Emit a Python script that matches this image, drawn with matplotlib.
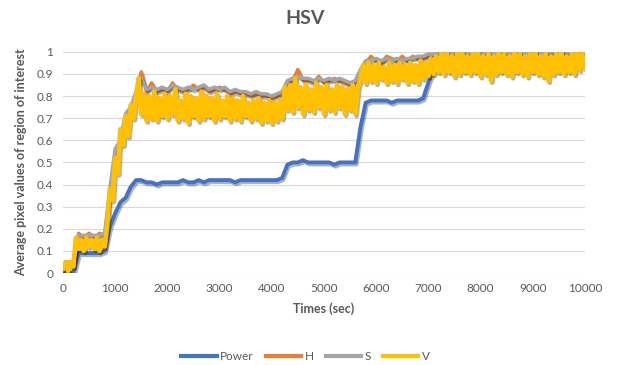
import numpy as np
import matplotlib.pyplot as plt
import matplotlib.patheffects as pe

# time axes (sec)
t_fine = np.arange(0, 10001, 50)
t_coarse = np.arange(0, 10001, 100)

# Power, every 100 sec
power = [0.00, 0.00, 0.00, 0.09, 0.09, 0.09, 0.09, 0.09, 0.10, 0.21,
         0.27, 0.32, 0.34, 0.39, 0.42, 0.42, 0.41, 0.41, 0.40, 0.41,
         0.41, 0.41, 0.41, 0.42, 0.41, 0.41, 0.42, 0.41, 0.42, 0.42,
         0.42, 0.42, 0.42, 0.41, 0.42, 0.42, 0.42, 0.42, 0.42, 0.42,
         0.42, 0.42, 0.43, 0.49, 0.50, 0.50, 0.51, 0.50, 0.50, 0.50,
         0.50, 0.50, 0.49, 0.50, 0.50, 0.50, 0.50, 0.66, 0.77, 0.78,
         0.78, 0.78, 0.78, 0.77, 0.78, 0.78, 0.78, 0.78, 0.78, 0.79,
         0.86, 0.92, 0.96, 0.98, 0.97, 0.98, 0.99, 0.98, 0.97, 0.99,
         0.98, 0.99, 0.98, 0.99, 0.98, 0.99, 0.98, 0.99, 0.98, 0.99,
         0.98, 0.97, 0.98, 0.99, 0.98, 0.97, 0.98, 0.99, 0.98, 0.99,
         0.98]

# S, every 100 sec
s_vals = [0.03, 0.05, 0.05, 0.17, 0.17, 0.17, 0.17, 0.17, 0.18, 0.38,
          0.56, 0.60, 0.72, 0.75, 0.82, 0.88, 0.83, 0.84, 0.83, 0.84,
          0.83, 0.85, 0.84, 0.83, 0.84, 0.83, 0.84, 0.85, 0.83, 0.84,
          0.83, 0.84, 0.82, 0.83, 0.82, 0.82, 0.81, 0.82, 0.81, 0.81,
          0.80, 0.81, 0.82, 0.87, 0.88, 0.89, 0.88, 0.88, 0.87, 0.88,
          0.87, 0.88, 0.87, 0.88, 0.87, 0.86, 0.87, 0.92, 0.96, 0.96,
          0.97, 0.96, 0.97, 0.96, 0.97, 0.96, 0.97, 0.97, 0.98, 0.98,
          0.99, 0.99, 1.00, 1.00, 0.99, 1.00, 1.00, 0.99, 1.00, 1.00,
          0.99, 1.00, 1.00, 0.99, 1.00, 1.00, 0.99, 1.00, 1.00, 0.99,
          1.00, 1.00, 0.99, 1.00, 1.00, 0.99, 1.00, 1.00, 0.99, 1.00,
          1.00]

# H, every 100 sec (mostly under S, a few spikes above)
h_vals = [0.02, 0.04, 0.04, 0.18, 0.16, 0.18, 0.16, 0.18, 0.17, 0.37,
          0.55, 0.59, 0.71, 0.74, 0.81, 0.91, 0.82, 0.86, 0.82, 0.83,
          0.82, 0.86, 0.83, 0.82, 0.83, 0.85, 0.83, 0.84, 0.82, 0.83,
          0.84, 0.83, 0.81, 0.82, 0.81, 0.81, 0.80, 0.81, 0.80, 0.80,
          0.79, 0.80, 0.81, 0.86, 0.87, 0.92, 0.87, 0.87, 0.86, 0.89,
          0.86, 0.87, 0.88, 0.87, 0.86, 0.85, 0.86, 0.91, 0.95, 0.98,
          0.96, 0.95, 0.98, 0.97, 0.96, 0.98, 0.96, 0.98, 0.97, 0.97,
          0.98, 0.98, 0.99, 0.99, 0.98, 0.99, 0.99, 0.98, 0.99, 0.99,
          0.98, 0.99, 0.99, 0.98, 0.99, 0.99, 0.98, 0.99, 0.99, 0.98,
          0.99, 0.99, 0.98, 0.99, 0.99, 0.98, 0.99, 0.99, 0.98, 0.99,
          0.99]

# V, every 50 sec
v_vals = [0.02, 0.05, 0.01, 0.05, 0.03,
          0.16, 0.11, 0.15, 0.10, 0.16, 0.12, 0.15, 0.11, 0.16, 0.10, 0.15, 0.12,
          0.22, 0.38, 0.33, 0.52, 0.45, 0.65, 0.58, 0.71, 0.62, 0.76, 0.70,
          # 1400 - 4200
          0.80, 0.88, 0.72, 0.81, 0.69, 0.80, 0.70, 0.82, 0.69, 0.79,
          0.71, 0.81, 0.70, 0.80, 0.72, 0.83, 0.69, 0.78, 0.70, 0.81,
          0.68, 0.80, 0.71, 0.79, 0.69, 0.82, 0.70, 0.80, 0.71, 0.79,
          0.69, 0.81, 0.70, 0.78, 0.71, 0.80, 0.69, 0.79, 0.70, 0.78,
          0.69, 0.80, 0.71, 0.77, 0.69, 0.78, 0.70, 0.79, 0.68, 0.77,
          0.69, 0.78, 0.68, 0.77, 0.69, 0.78, 0.70,
          # 4250 - 5650
          0.84, 0.74, 0.85, 0.73, 0.88, 0.75, 0.84, 0.72, 0.85, 0.74,
          0.83, 0.73, 0.86, 0.75, 0.84, 0.72, 0.85, 0.74, 0.83, 0.73,
          0.85, 0.75, 0.84, 0.72, 0.83, 0.74, 0.85, 0.72, 0.84,
          # 5700 - 7150
          0.88, 0.94, 0.86, 0.95, 0.87, 0.94, 0.86, 0.95, 0.88, 0.93,
          0.86, 0.95, 0.87, 0.94, 0.86, 0.95, 0.88, 0.94, 0.86, 0.95,
          0.87, 0.94, 0.86, 0.96, 0.88, 0.95, 0.89, 0.97, 0.90, 0.98,
          # 7200 - 10000
          0.91, 0.99, 0.90, 1.00, 0.91, 0.98, 0.89, 0.99, 0.90, 1.00,
          0.91, 0.98, 0.90, 0.99, 0.91, 1.00, 0.89, 0.98, 0.90, 0.99,
          0.87, 0.98, 0.90, 1.00, 0.91, 0.99, 0.90, 0.98, 0.89, 1.00,
          0.91, 0.99, 0.90, 0.98, 0.89, 0.99, 0.91, 1.00, 0.90, 0.98,
          0.89, 0.99, 0.87, 0.98, 0.90, 0.99, 0.91, 1.00, 0.90, 0.98,
          0.91, 0.99, 0.90, 1.00, 0.92, 0.99, 0.93]

x_ticks = np.arange(0, 10001, 1000)
y_ticks = np.round(np.arange(0, 1.01, 0.1), 1)
y_tick_labels = ['0', '0.1', '0.2', '0.3', '0.4', '0.5', '0.6', '0.7', '0.8', '0.9', '1']

plt.rcParams['font.family'] = ['Lato', 'DejaVu Sans']
txt_col = '#595959'

fig = plt.figure(figsize=(6.17, 3.65), dpi=100)
ax = fig.add_axes([0.102, 0.252, 0.846, 0.606])

shadow = [pe.SimpleLineShadow(offset=(1, -1.5), shadow_color='k', alpha=0.3), pe.Normal()]

ax.plot(t_coarse, power, color='#4472C4', lw=2.8, label='Power', path_effects=shadow)
ax.plot(t_coarse, h_vals, color='#ED7D31', lw=2.4, label='H', path_effects=shadow)
ax.plot(t_coarse, s_vals, color='#A5A5A5', lw=2.6, label='S', path_effects=shadow)
ax.plot(t_fine, v_vals, color='#FFC000', lw=3.4, label='V', path_effects=shadow)

ax.set_xlim(0, 10000)
ax.set_ylim(0, 1)
ax.set_xticks(x_ticks)
ax.set_yticks(y_ticks)
ax.set_yticklabels(y_tick_labels)
ax.tick_params(length=0, labelsize=8.5, colors=txt_col, pad=7)
ax.grid(axis='y', color='#D9D9D9', lw=0.8)
ax.set_axisbelow(True)
for sp in ax.spines.values():
    sp.set_visible(False)

ax.set_xlabel('Times (sec)', fontsize=9, fontweight='bold', color=txt_col, labelpad=6)
ax.set_ylabel('Average pixel values of region of interest', fontsize=9, fontweight='bold',
              color=txt_col, labelpad=7)
fig.text(0.495, 0.948, 'HSV', ha='center', va='center', fontsize=14, fontweight='bold', color=txt_col)

leg = fig.legend(loc='center', bbox_to_anchor=(0.495, 0.022), ncol=4, frameon=False,
                 fontsize=8.5, handlelength=3, handletextpad=0.3, columnspacing=1.0)
for line in leg.get_lines():
    line.set_linewidth(3)
    line.set_path_effects([])
for t in leg.get_texts():
    t.set_color(txt_col)

fig.savefig('out.png', dpi=100)
